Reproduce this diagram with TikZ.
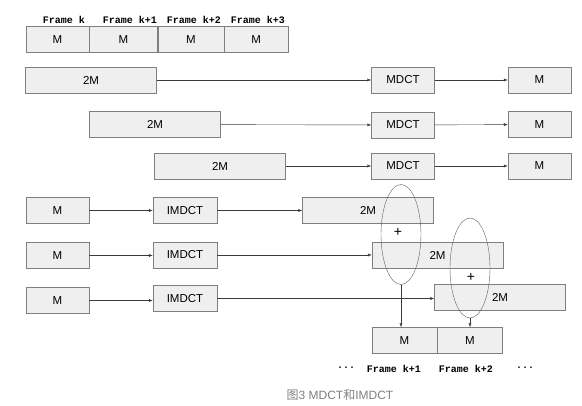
\documentclass[tikz,border=0pt]{standalone}
\usepackage{fontspec}
\setmainfont{Liberation Sans}
\newfontfamily\framefont{Liberation Mono}
\newfontfamily\cjk{Noto Sans CJK SC}
\usetikzlibrary{positioning,shapes.geometric,arrows.meta}

\definecolor{boxfill}{HTML}{EFEFEF}
\definecolor{boxline}{HTML}{7F7F7F}
\definecolor{lineclr}{HTML}{3A3A3A}

\tikzset{
  blk/.style={draw=boxline, fill=boxfill, inner sep=0pt, minimum height=26pt,
    font=\fontsize{11.5}{11.5}\selectfont},
  half/.style={blk, minimum width=65pt},
  full/.style={blk, minimum width=131pt},
  xform/.style={blk, minimum width=63pt},
  flow/.style={draw=lineclr, -{Latex[length=4pt,width=3pt]}},
  frm/.style={font=\framefont\bfseries\fontsize{10}{10}\selectfont, inner sep=0pt},
  ring/.style={ellipse, draw=lineclr!80, minimum width=40pt, minimum height=100pt, inner sep=0pt},
  plus/.style={font=\fontsize{14}{14}\selectfont, inner sep=0pt}
}

\begin{document}
\begin{tikzpicture}[x=1pt,y=-1pt]
    \useasboundingbox (0,0) rectangle (582,406);

    % Input frames
    \node[blk, minimum width=63pt] (f0) at (57.5,39.5) {M};
    \node[blk, minimum width=68pt, right=0pt of f0] (f1) {M};
    \node[blk, minimum width=66pt, right=0pt of f1] (f2) {M};
    \node[blk, minimum width=64pt, right=0pt of f2] (f3) {M};
    \node[frm] (lk0) at (64,20) {Frame k};
    \node[frm] (lk1) at (130,20) {Frame k+1};
    \node[frm] (lk2) at (194,20) {Frame k+2};
    \node[frm] (lk3) at (258,20) {Frame k+3};

    % MDCT rows
    \node[full] (w1) at (91,80) {2M};
    \node[full] (w2) at (155,124.5) {2M};
    \node[full] (w3) at (220,166) {2M};
    \node[xform] (md1) at (403,80) {MDCT};
    \node[xform] (md2) at (403,125) {MDCT};
    \node[xform] (md3) at (403,166) {MDCT};
    \node[xform] (c1) at (539.5,80) {M};
    \node[xform] (c2) at (539.5,124.5) {M};
    \node[xform] (c3) at (539.5,166) {M};
    \foreach \i in {1,2,3} {
      \draw[flow] (w\i) -- (md\i);
      \draw[flow] (md\i) -- (c\i);
    }

    % IMDCT rows
    \node[xform] (s1) at (57.5,210.5) {M};
    \node[xform] (s2) at (57.5,255.5) {M};
    \node[xform] (s3) at (57.5,300.5) {M};
    \node[xform, minimum width=64pt] (im1) at (185,210.5) {IMDCT};
    \node[xform, minimum width=64pt] (im2) at (185,255) {IMDCT};
    \node[xform, minimum width=64pt] (im3) at (185,298.5) {IMDCT};
    \node[full] (r1) at (368,210.5) {2M};
    \node[full] (r2) at (437.5,255) {2M};
    \node[full] (r3) at (500,297.5) {2M};
    \foreach \i in {1,2,3} {
      \draw[flow] (s\i) -- (s\i -| im\i.west);
      \draw[flow] (im\i) -- (im\i -| r\i.west);
    }

    % Overlap-add
    \node[ring] (e1) at (401,234.5) {};
    \node[ring] (e2) at (470,268) {};
    \node[plus] (p1) at (398,232) {+};
    \node[plus] (p2) at (471,277) {+};

    % Output frames
    \node[half] (o1) at (404.5,340.5) {M};
    \node[half, right=0pt of o1] (o2) {M};
    \draw[flow] (e1.south) -- (e1.south |- o1.north);
    \draw[flow] (e2.south) -- (e2.south |- o2.north);
    \node[frm] (d1) at (346,369) {···};
    \node[frm] (lo1) at (394,369) {Frame k+1};
    \node[frm] (lo2) at (466,369) {Frame k+2};
    \node[frm] (d2) at (525,369) {···};

    % Caption
    \node[text=gray, font=\fontsize{12}{12}\selectfont] (cap) at (340,395) {{\cjk 图}3 MDCT{\cjk 和}IMDCT};
\end{tikzpicture}
\end{document}
